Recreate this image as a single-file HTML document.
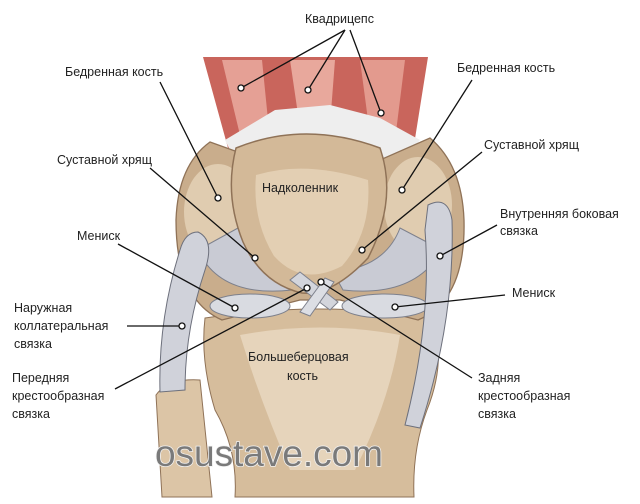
<!DOCTYPE html>
<html><head><meta charset="utf-8"><style>
html,body{margin:0;padding:0;background:#fff;width:640px;height:504px;overflow:hidden}
text{font-family:"Liberation Sans",sans-serif;font-size:12.5px;fill:#222}
</style></head><body>
<svg width="640" height="504" viewBox="0 0 640 504" xmlns="http://www.w3.org/2000/svg">
<!-- muscle -->
<path d="M203,57 L428,57 L414,145 L380,152 L320,130 L260,150 L228,148 Z" fill="#c9655c"/>
<path d="M222,60 L262,60 L270,140 L240,135 Z" fill="#e5a095"/>
<path d="M290,60 L335,60 L330,125 L300,128 Z" fill="#e8a89c"/>
<path d="M360,60 L405,60 L395,140 L370,135 Z" fill="#e39a8e"/>
<path d="M225,140 L275,110 L330,105 L380,118 L420,140 L400,165 L240,170 Z" fill="#eeeeee"/>
<!-- tibia & fibula -->
<path d="M156,395 Q168,378 200,380 L212,497 L162,497 Z" fill="#dcc5a6" stroke="#8f7257"/>
<path d="M205,318 Q320,300 432,318 Q447,360 427,410 Q412,450 414,497 L235,497 Q238,450 215,410 Q200,360 205,318 Z" fill="#d6bd9c" stroke="#8f7257"/>
<path d="M240,335 Q320,320 400,335 Q390,400 355,470 L290,470 Q260,400 240,335 Z" fill="#e6d4bb"/>
<!-- femur -->
<path d="M210,142 Q178,165 176,220 Q176,300 222,320 L300,300 L340,300 L418,320 Q466,300 464,220 Q462,165 430,138 L380,160 L260,160 Z" fill="#c9ad8c" stroke="#8f7257" stroke-width="1.3"/>
<ellipse cx="218" cy="212" rx="34" ry="48" fill="#e0ccb0"/>
<ellipse cx="418" cy="205" rx="34" ry="48" fill="#e0ccb0"/>
<!-- cartilage -->
<path d="M198,250 Q220,298 292,290 L302,272 Q252,268 238,228 Z" fill="#c9cbd4" stroke="#7d808c"/>
<path d="M442,250 Q415,298 343,290 L333,272 Q385,268 400,228 Z" fill="#c9cbd4" stroke="#7d808c"/>
<!-- patella -->
<path d="M236,148 Q305,120 380,148 Q398,200 368,258 Q332,296 302,293 Q262,284 243,242 Q224,195 236,148 Z" fill="#d3b998" stroke="#8f7257" stroke-width="1.5"/>
<path d="M256,175 Q305,160 368,180 Q372,232 342,266 Q302,287 274,256 Q252,220 256,175 Z" fill="#e3cfb3"/>
<!-- cruciate -->
<path d="M290,280 L330,310 L338,302 L300,272 Z" fill="#d3d5dc" stroke="#7d808c"/>
<path d="M325,278 L300,312 L310,316 L334,282 Z" fill="#dcdee4" stroke="#7d808c"/>
<!-- menisci -->
<ellipse cx="250" cy="306" rx="40" ry="12" fill="#d9dbe1" stroke="#7d808c"/>
<ellipse cx="385" cy="306" rx="43" ry="12" fill="#d9dbe1" stroke="#7d808c"/>
<!-- collateral ligaments -->
<path d="M198,232 Q215,240 205,270 Q185,330 185,390 L160,392 Q158,320 180,250 Q185,232 198,232 Z" fill="#d0d2da" stroke="#6d707c"/>
<path d="M428,205 Q448,195 452,220 Q455,320 420,428 L405,425 Q432,320 425,230 Z" fill="#d0d2da" stroke="#6d707c"/>
<!-- watermark -->
<text x="155" y="466" textLength="228" lengthAdjust="spacing" style="font-size:37px;fill:#7a7a7a;stroke:#f2f2f2;stroke-width:1.5;paint-order:stroke">osustave.com</text>
<!-- leader lines -->
<g stroke="#111" stroke-width="1.3" fill="none">
<line x1="345" y1="30" x2="241" y2="88"/><line x1="345" y1="30" x2="308" y2="90"/><line x1="350" y1="30" x2="381" y2="113"/>
<line x1="160" y1="82" x2="218" y2="198"/>
<line x1="472" y1="80" x2="402" y2="190"/>
<line x1="150" y1="168" x2="255" y2="258"/>
<line x1="482" y1="152" x2="362" y2="250"/>
<line x1="118" y1="244" x2="235" y2="308"/>
<line x1="497" y1="225" x2="440" y2="256"/>
<line x1="505" y1="295" x2="395" y2="307"/>
<line x1="127" y1="326" x2="181" y2="326"/>
<line x1="115" y1="389" x2="307" y2="288"/>
<line x1="472" y1="378" x2="321" y2="282"/>
</g>
<g stroke="#111" stroke-width="1.3" fill="#fff">
<circle cx="241" cy="88" r="3"/><circle cx="308" cy="90" r="3"/><circle cx="381" cy="113" r="3"/>
<circle cx="218" cy="198" r="3"/><circle cx="402" cy="190" r="3"/><circle cx="255" cy="258" r="3"/>
<circle cx="362" cy="250" r="3"/><circle cx="235" cy="308" r="3"/><circle cx="440" cy="256" r="3"/>
<circle cx="395" cy="307" r="3"/><circle cx="182" cy="326" r="3"/><circle cx="307" cy="288" r="3"/>
<circle cx="321" cy="282" r="3"/>
</g>
<!-- labels -->
<text x="305" y="23">Квадрицепс</text>
<text x="65" y="76">Бедренная кость</text>
<text x="457" y="72">Бедренная кость</text>
<text x="57" y="164">Суставной хрящ</text>
<text x="484" y="149">Суставной хрящ</text>
<text x="77" y="240">Мениск</text>
<text x="500" y="218">Внутренняя боковая</text>
<text x="500" y="235">связка</text>
<text x="512" y="297">Мениск</text>
<text x="14" y="312">Наружная</text>
<text x="14" y="330">коллатеральная</text>
<text x="14" y="348">связка</text>
<text x="12" y="382">Передняя</text>
<text x="12" y="400">крестообразная</text>
<text x="12" y="418">связка</text>
<text x="478" y="382">Задняя</text>
<text x="478" y="400">крестообразная</text>
<text x="478" y="418">связка</text>
<text x="262" y="192">Надколенник</text>
<text x="248" y="361">Большеберцовая</text>
<text x="287" y="380">кость</text>
</svg>
</body></html>
